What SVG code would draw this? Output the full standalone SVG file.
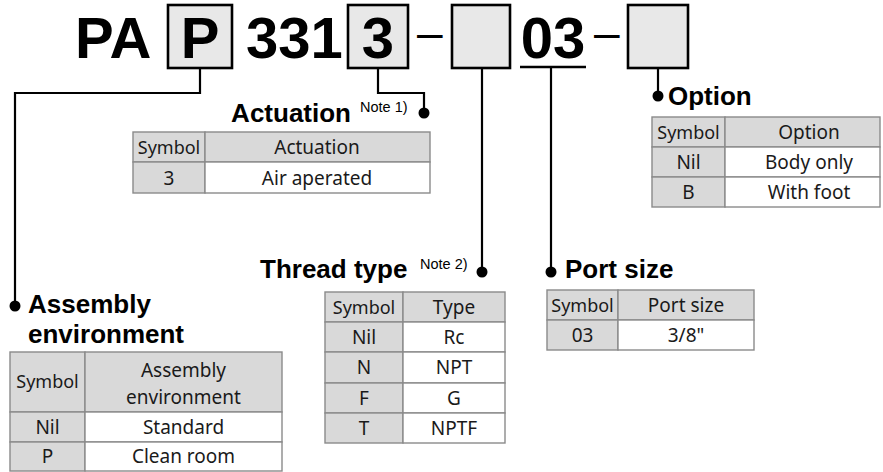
<svg xmlns="http://www.w3.org/2000/svg" width="883" height="472" viewBox="0 0 883 472">
<style>
.code{font-family:"Liberation Sans",Arial,sans-serif;font-weight:bold;font-size:58px;fill:#000}
.dash{font-family:"Liberation Sans",Arial,sans-serif;font-size:46px;fill:#000}
.box{fill:#e8e8e8;stroke:#000;stroke-width:2.6}
.title{font-family:"Liberation Sans",Arial,sans-serif;font-weight:bold;font-size:26px;fill:#000}
.note{font-family:"Liberation Sans",Arial,sans-serif;font-size:14.5px;fill:#000}
.conn{fill:none;stroke:#000;stroke-width:2.2}
.dot{fill:#000}
.hd{fill:#d9d9d9;stroke:#8a8a8a;stroke-width:1.4}
.cell{fill:#fff;stroke:#8a8a8a;stroke-width:1.4}
.t{font-family:"Noto Sans","DejaVu Sans",sans-serif;font-size:19px;fill:#1a1a1a;text-anchor:middle}
.s{font-size:18px}
</style>

<g id="code">
  <text class="code" x="75" y="58">PA</text>
  <rect class="box" x="168" y="5" width="64" height="63"/>
  <text class="code" x="200" y="58" text-anchor="middle">P</text>
  <text class="code" x="246" y="58">331</text>
  <rect class="box" x="348" y="5" width="60" height="63"/>
  <text class="code" x="378" y="58" text-anchor="middle">3</text>
  <text class="dash" x="417" y="48">–</text>
  <rect class="box" x="452" y="5" width="58" height="63"/>
  <text class="code" x="553" y="58" text-anchor="middle">03</text>
  <line x1="520" y1="67" x2="586" y2="67" stroke="#000" stroke-width="2.5"/>
  <text class="dash" x="594" y="48">–</text>
  <rect class="box" x="628" y="5" width="60" height="63"/>
</g>

<g id="connectors">
  <polyline class="conn" points="200,68 200,93 15,93 15,306"/>
  <circle class="dot" cx="15" cy="306" r="5.5"/>
  <polyline class="conn" points="378,68 378,93 424,93 424,113"/>
  <circle class="dot" cx="424" cy="113" r="5.5"/>
  <polyline class="conn" points="482,68 482,272"/>
  <circle class="dot" cx="482" cy="272" r="5.5"/>
  <polyline class="conn" points="551,68 551,272"/>
  <circle class="dot" cx="551" cy="272" r="5.5"/>
  <polyline class="conn" points="658,68 658,96"/>
  <circle class="dot" cx="658" cy="96" r="5.5"/>
</g>

<g id="actuation">
  <text class="title" x="351" y="122" text-anchor="end">Actuation</text>
  <text class="note" x="360" y="112">Note 1)</text>
  <rect class="hd" x="133" y="132" width="72" height="30"/>
  <rect class="hd" x="205" y="132" width="225" height="30"/>
  <rect class="hd" x="133" y="162" width="72" height="31"/>
  <rect class="cell" x="205" y="162" width="225" height="31"/>
  <text class="t s" x="169" y="154">Symbol</text>
  <text class="t" x="317" y="154">Actuation</text>
  <text class="t" x="169" y="185">3</text>
  <text class="t" x="317" y="185">Air aperated</text>
</g>

<g id="option">
  <text class="title" x="668" y="105">Option</text>
  <rect class="hd" x="652" y="117" width="73" height="30"/>
  <rect class="hd" x="725" y="117" width="155" height="30"/>
  <rect class="hd" x="652" y="147" width="73" height="30"/>
  <rect class="cell" x="725" y="147" width="155" height="30"/>
  <rect class="hd" x="652" y="177" width="73" height="30"/>
  <rect class="cell" x="725" y="177" width="155" height="30"/>
  <text class="t s" x="688.5" y="139">Symbol</text>
  <text class="t" x="809" y="139">Option</text>
  <text class="t" x="688.5" y="169">Nil</text>
  <text class="t" x="809" y="169">Body only</text>
  <text class="t" x="688.5" y="199">B</text>
  <text class="t" x="809" y="199">With foot</text>
</g>

<g id="thread-type">
  <text class="title" x="260" y="278">Thread type</text>
  <text class="note" x="420" y="269">Note 2)</text>
  <rect class="hd" x="325" y="292" width="78" height="30"/>
  <rect class="hd" x="403" y="292" width="102" height="30"/>
  <rect class="hd" x="325" y="322" width="78" height="30"/>
  <rect class="cell" x="403" y="322" width="102" height="30"/>
  <rect class="hd" x="325" y="352" width="78" height="31"/>
  <rect class="cell" x="403" y="352" width="102" height="31"/>
  <rect class="hd" x="325" y="383" width="78" height="30"/>
  <rect class="cell" x="403" y="383" width="102" height="30"/>
  <rect class="hd" x="325" y="413" width="78" height="30"/>
  <rect class="cell" x="403" y="413" width="102" height="30"/>
  <text class="t s" x="364" y="314">Symbol</text>
  <text class="t" x="454" y="314">Type</text>
  <text class="t" x="364" y="344">Nil</text>
  <text class="t" x="454" y="344">Rc</text>
  <text class="t" x="364" y="374">N</text>
  <text class="t" x="454" y="374">NPT</text>
  <text class="t" x="364" y="405">F</text>
  <text class="t" x="454" y="405">G</text>
  <text class="t" x="364" y="435">T</text>
  <text class="t" x="454" y="435">NPTF</text>
</g>

<g id="port-size">
  <text class="title" x="565" y="278">Port size</text>
  <rect class="hd" x="547" y="290" width="71" height="30"/>
  <rect class="hd" x="618" y="290" width="136" height="30"/>
  <rect class="hd" x="547" y="320" width="71" height="30"/>
  <rect class="cell" x="618" y="320" width="136" height="30"/>
  <text class="t s" x="582.5" y="312">Symbol</text>
  <text class="t" x="686" y="312">Port size</text>
  <text class="t" x="582.5" y="342">03</text>
  <text class="t" x="686" y="342">3/8"</text>
</g>

<g id="assembly-environment">
  <text class="title" x="28" y="313">Assembly</text>
  <text class="title" x="28" y="343">environment</text>
  <rect class="hd" x="10" y="352" width="75" height="60"/>
  <rect class="hd" x="85" y="352" width="197" height="60"/>
  <rect class="hd" x="10" y="412" width="75" height="30"/>
  <rect class="cell" x="85" y="412" width="197" height="30"/>
  <rect class="hd" x="10" y="442" width="75" height="29"/>
  <rect class="cell" x="85" y="442" width="197" height="29"/>
  <text class="t s" x="47.5" y="388">Symbol</text>
  <text class="t" x="183.5" y="377"><tspan x="183.5" y="377">Assembly</tspan><tspan x="183.5" y="404">environment</tspan></text>
  <text class="t" x="47.5" y="434">Nil</text>
  <text class="t" x="183.5" y="434">Standard</text>
  <text class="t" x="47.5" y="463">P</text>
  <text class="t" x="183.5" y="463">Clean room</text>
</g>
</svg>
